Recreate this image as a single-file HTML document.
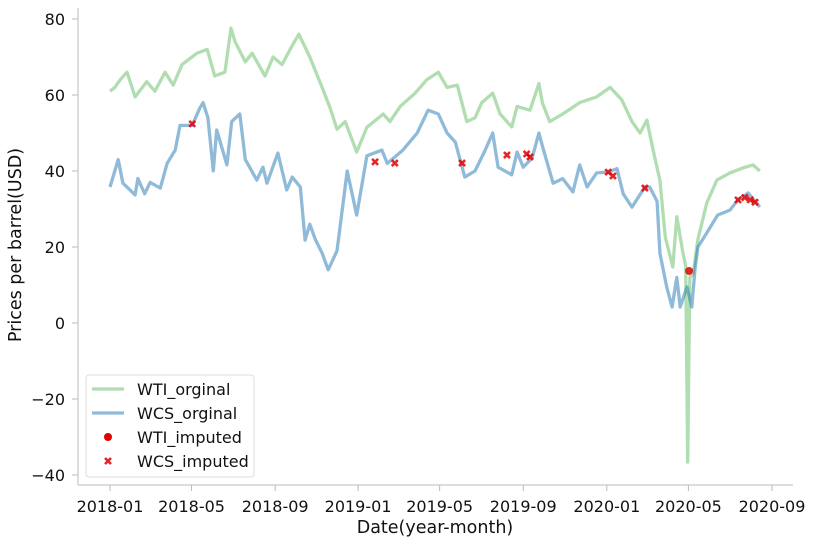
<!DOCTYPE html>
<html><head><meta charset="utf-8"><style>
body{margin:0;background:#fff;font-family:"Liberation Sans","DejaVu Sans",sans-serif}
svg text{font-family:"DejaVu Sans","Liberation Sans",sans-serif;fill:#111}
</style></head><body>
<svg id="chart" width="821" height="544" xmlns="http://www.w3.org/2000/svg"></svg>
<script>
// days since 2018-01-01
const wtiDays=[0,7,15,25,37,54,66,81,93,106,128,143,154,169,178,184,199,209,228,240,253,268,278,294,312,324,334,346,363,378,402,412,427,449,466,483,496,511,525,537,547,563,574,591,599,618,631,636,647,666,691,716,736,753,768,780,790,799,809,817,828,834,843,847,850,853,858,865,878,893,912,931,946,956];
const wtiVals=[61,62,64,66,59.5,63.5,61,66,62.6,68,71,72,65,66,77.6,74,68.7,71,65,70,68,73,76,70,62,56.5,51,53,45,51.5,55,53,57,60.5,64,66,62,62.6,53,54,58,60.5,55,51.6,57,56,63,58,53,55,58,59.5,62,58.7,53,50,53.4,45.5,37.6,22.6,14.7,28,18.4,15,-36.6,12,13,22,31.6,37.6,39.5,40.8,41.6,40];
const wcsDays=[0,12,19,37,41,51,59,74,84,96,103,121,132,137,144,152,157,172,179,191,199,216,225,231,247,260,268,280,287,294,302,312,321,334,349,363,378,400,408,431,452,468,483,496,508,522,537,552,563,571,591,599,608,621,631,637,652,666,681,691,702,716,733,746,755,768,787,794,805,809,819,827,834,839,849,856,861,865,878,894,912,924,939,956];
const wcsVals=[35.8,43,36.8,33.7,38,34,37,35.5,42,45.5,52,52,56.5,58,54,40,50.8,41.6,53,55,43,37.6,41,36.8,44.7,35,38.4,35.8,21.8,26,22,18.4,14,19,40,28.4,44,45.5,42,45.5,50,56,55,50,47.6,38.4,40,45.5,50,41,39,45,41,43.4,50,46,36.8,38,34.5,41.6,35.8,39.5,39.7,40.6,34,30.5,35.8,35.8,32,18.4,9.5,4.2,12,4.2,9.5,4.2,14.7,20,23.7,28.4,29.7,32.4,34.2,30.5];
const wtiImpDays=[852];
const wtiImpVals=[13.7];
const wcsImpDays=[121,390,419,518,584,613,618,733,740,787,924,934,942,949];
const wcsImpVals=[52.4,42.4,42.1,42.1,44.2,44.5,43.7,39.7,38.7,35.5,32.4,33,32.4,31.8];
const xTickDays=[0,120,243,365,485,608,731,851,974];
const xTickLabels=["2018-01","2018-05","2018-09","2019-01","2019-05","2019-09","2020-01","2020-05","2020-09"];
const yTicks=[80,60,40,20,0,-20,-40];
const yTickLabels=["80","60","40","20","0","\u221220","\u221240"];

const NS="http://www.w3.org/2000/svg";
const svg=document.getElementById('chart');
const X=d=>110+d*(662/974);
const Y=v=>323-v*3.8;
function mk(t,a,p){const e=document.createElementNS(NS,t);for(const k in a)e.setAttribute(k,a[k]);(p||svg).appendChild(e);return e;}

let s=mk('line',{x1:78,y1:8,x2:78,y2:485,stroke:'#bbb','stroke-width':1});


s=mk('line',{x1:78,y1:485,x2:793,y2:485,stroke:'#bbb','stroke-width':1});



xTickDays.forEach((d,i)=>{
  mk('line',{x1:X(d),y1:485,x2:X(d),y2:491,stroke:'#bbb'});
  const t=mk('text',{x:X(d),y:512,'text-anchor':'middle','font-size':16});
  t.textContent=xTickLabels[i];
  
  
});
yTicks.forEach((v,i)=>{
  mk('line',{x1:72,y1:Y(v),x2:78,y2:Y(v),stroke:'#bbb'});
  const t=mk('text',{x:65,y:Y(v)+6,'text-anchor':'end','font-size':16});
  t.textContent=yTickLabels[i];
  
  
});
let t=mk('text',{x:435,y:533,'text-anchor':'middle','font-size':17.5});
t.textContent='Date(year-month)';


t=mk('text',{x:0,y:0,'text-anchor':'middle','font-size':17.5,transform:'translate(21,245) rotate(-90)'});
t.textContent='Prices per barrel(USD)';



function path(days,vals){return days.map((d,i)=>(i?'L':'M')+X(d).toFixed(1)+' '+Y(vals[i]).toFixed(1)).join(' ');}
let p=mk('path',{d:path(wtiDays,wtiVals),fill:'none',stroke:'rgb(100,190,100)','stroke-opacity':0.5,'stroke-width':3.3,'stroke-linejoin':'round'});


p=mk('path',{d:path(wcsDays,wcsVals),fill:'none',stroke:'rgb(31,119,180)','stroke-opacity':0.5,'stroke-width':3.3,'stroke-linejoin':'round'});



function cross(cx,cy,g){
  mk('path',{d:`M${cx-3} ${cy-3}L${cx+3} ${cy+3}M${cx-3} ${cy+3}L${cx+3} ${cy-3}`,stroke:'#e00000','stroke-width':2.6,'stroke-opacity':0.85},g);
}
wcsImpDays.forEach((d,i)=>{
  const g=mk('g',{});
  
  
  cross(X(d),Y(wcsImpVals[i]),g);
});
wtiImpDays.forEach((d,i)=>{
  const c=mk('circle',{cx:X(d),cy:Y(wtiImpVals[i]),r:4,fill:'#e00000','fill-opacity':0.85});
  
  
});

// legend
const lg=mk('g',{});


mk('rect',{x:86,y:375,width:168,height:102,rx:3,fill:'#fff','fill-opacity':0.8,stroke:'#ddd'},lg);
const entries=[['WTI_orginal','lg','rgb(100,190,100)'],['WCS_orginal','lb','rgb(31,119,180)'],['WTI_imputed','dot'],['WCS_imputed','x']];
entries.forEach((e,i)=>{
  const y=389+i*24;
  const g=mk('g',{},lg);
  
  
  if(e[1]==='lg'||e[1]==='lb') mk('line',{x1:92,y1:y,x2:124,y2:y,stroke:e[2],'stroke-opacity':0.5,'stroke-width':3.3},g);
  else if(e[1]==='dot') mk('circle',{cx:108,cy:y,r:4,fill:'#e00000'},g);
  else cross(108,y,g);
  const tx=mk('text',{x:137,y:y+6,'font-size':16},g);
  tx.textContent=e[0];
});
</script>
</body></html>
